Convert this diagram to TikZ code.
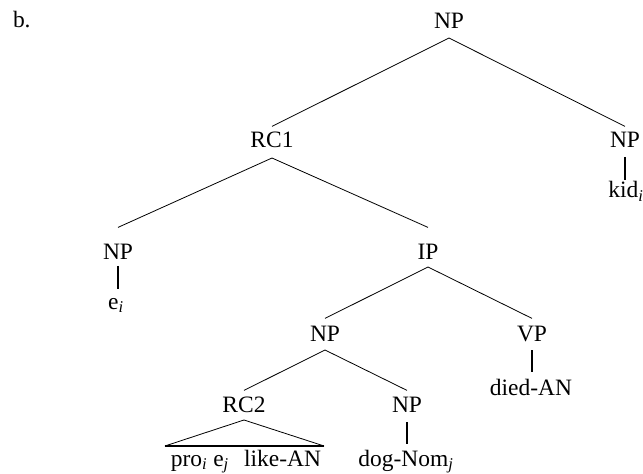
\documentclass[tikz,border=0pt]{standalone}
\usepackage{fontspec}
\setmainfont{Liberation Serif}
\usetikzlibrary{calc}
\newcommand{\sbi}[1]{\textsubscript{\textit{#1}}}
\begin{document}
\begin{tikzpicture}[x=0.75pt,y=0.75pt,
  lab/.style={font=\fontsize{17.6pt}{21pt}\selectfont, inner sep=0pt, outer sep=0pt, anchor=base, text height=11.7pt, text depth=0pt},
  leaf/.style={lab, text height=12pt},
  branch/.style={line width=0.6pt},
  unary/.style={line width=1.6pt},
  tribase/.style={line width=1.5pt}]
\useasboundingbox (0,0) rectangle (643,-474);
% labels
\node[lab, anchor=base west] (b) at (13,-28) {b.};
\node[lab] (np0) at (449,-29) {NP};
\node[lab] (rc1) at (272,-148) {RC1};
\node[lab] (npr) at (625,-148) {NP};
\node[leaf] (kid) at (626,-198) {kid\sbi{i}};
\node[lab] (npl) at (118,-259) {NP};
\node[leaf] (ei) at (116,-309) {e\sbi{i}};
\node[lab] (ip) at (428,-259) {IP};
\node[lab] (npm) at (325,-341) {NP};
\node[lab] (vp) at (532,-341) {VP};
\node[leaf] (died) at (531,-395) {died-AN};
\node[lab] (rc2) at (244,-412) {RC2};
\node[lab] (npd) at (407,-412) {NP};
\node[leaf] (pro) at (246,-466) {pro\sbi{i} e\sbi{j}\hspace{0.4em} like-AN};
\node[leaf] (dog) at (406,-466) {dog-Nom\sbi{j}};
% branches
\draw[branch] ($(np0.south)+(0,-9)$) -- ($(rc1.north)+(0,6)$);
\draw[branch] ($(np0.south)+(0,-9)$) -- ($(npr.north)+(0,6)$);
\draw[branch] ($(rc1.south)+(0,-10)$) -- ($(npl.north)+(0,16)$);
\draw[branch] ($(rc1.south)+(0,-10)$) -- ($(ip.north)+(0,16)$);
\draw[branch] ($(ip.south)+(0,-8)$) -- ($(npm.north)+(0,7)$);
\draw[branch] ($(ip.south)+(0,-8)$) -- ($(vp.north)+(0,7)$);
\draw[branch] ($(npm.south)+(0,-9)$) -- ($(rc2.north)+(0,6)$);
\draw[branch] ($(npm.south)+(0,-9)$) -- ($(npd.north)+(0,6)$);
% unary lines
\draw[unary] ($(npr.south)+(0,-9)$) -- ($(npr.south |- kid.north)+(0,2)$);
\draw[unary] ($(npl.south)+(0,-7)$) -- ($(npl.south |- ei.north)+(0,4)$);
\draw[unary] ($(vp.south)+(0,-9)$) -- ($(vp.south |- died.north)+(0,7)$);
\draw[unary] ($(npd.south)+(0,-10)$) -- ($(npd.south |- dog.north)+(0,6)$);
% triangle
\coordinate (tapex) at ($(rc2.south)+(0,-8)$);
\coordinate (tl) at ($(pro.north west)+(-6,4)$);
\coordinate (tr) at ($(pro.north east)+(3,4)$);
\draw[branch] (tl) -- (tapex) -- (tr);
\draw[tribase] (tl) -- (tr);
\end{tikzpicture}
\end{document}
